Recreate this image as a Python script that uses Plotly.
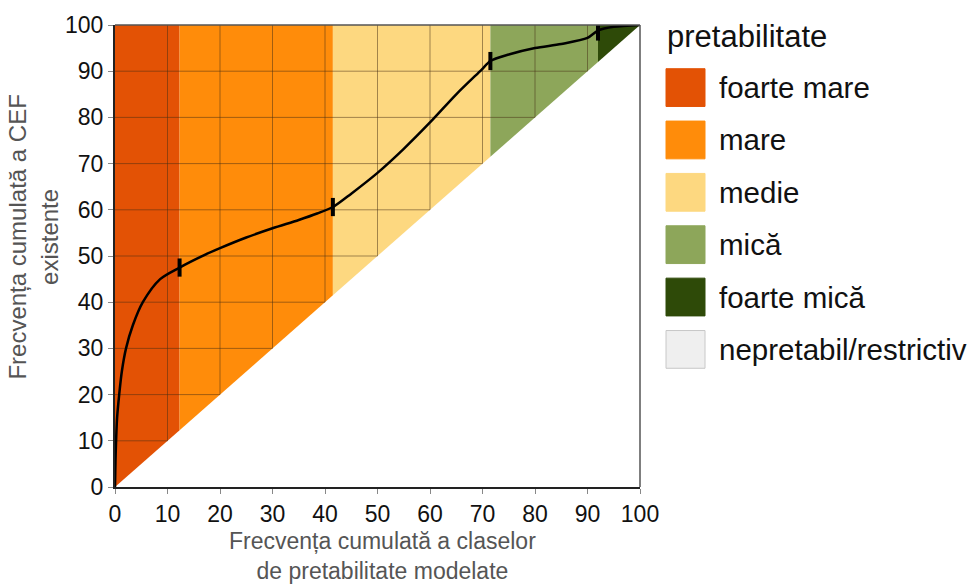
import plotly.graph_objects as go

# ---------------- data ----------------
classes = ["foarte mare", "mare", "medie", "mică", "foarte mică"]
class_colors = ["#E35205", "#FF8C0A", "#FDD880", "#8DA65A", "#2E4A08"]
class_bounds = [0, 12.3, 41.5, 71.5, 92.0, 100]   # cumulative frequency of modelled classes

extra_class = "nepretabil/restrictiv"
extra_color = "#EFEFEF"

curve_x = [0, 0.15, 0.4, 0.8, 1.3, 2.1, 3.4, 5.3, 8.6, 12.3, 17.0, 20.0,
           25.0, 30.0, 35.0, 38.5, 41.5, 45.0, 50.0, 55.0, 60.0, 65.0, 69.8, 71.5,
           75.0, 80.0, 85.0, 90.0, 92.0, 95.0, 100]
curve_y = [0, 8, 15, 20, 25, 30, 35, 40, 45.0, 47.5, 50.2, 51.7,
           54.0, 56.0, 57.8, 59.2, 60.6, 63.5, 68.0, 73.2, 78.9, 85.0, 90.3, 92.2,
           93.6, 95.0, 95.9, 97.2, 98.8, 99.6, 100]

break_x = [12.3, 41.5, 71.5, 92.0]
break_y = [47.5, 60.6, 92.2, 98.6]

tick_vals = [0, 10, 20, 30, 40, 50, 60, 70, 80, 90, 100]

FONT = "Liberation Sans, Arial, sans-serif"

fig = go.Figure()

# coloured class areas above the diagonal
for name, col, x0, x1 in zip(classes, class_colors, class_bounds[:-1], class_bounds[1:]):
    fig.add_trace(go.Scatter(
        x=[x0, x0, x1, x1, x0], y=[x0, 100, 100, x1, x0],
        mode="lines", fill="toself", fillcolor=col,
        line=dict(width=0, color=col), hoverinfo="skip", showlegend=False))

# grid lines only over the coloured area
gx, gy = [], []
for k in tick_vals[1:-1]:
    gx += [k, k, None, 0, k, None]
    gy += [k, 100, None, k, k, None]
fig.add_trace(go.Scatter(x=gx, y=gy, mode="lines",
                         line=dict(color="rgba(70,45,20,0.5)", width=1),
                         hoverinfo="skip", showlegend=False))

# cumulative curve
fig.add_trace(go.Scatter(x=curve_x, y=curve_y, mode="lines", line_shape="spline",
                         line=dict(color="#000000", width=2.5, smoothing=0.8),
                         hoverinfo="skip", showlegend=False))
# class break marks
fig.add_trace(go.Scatter(x=break_x, y=break_y, mode="markers",
                         marker=dict(symbol="line-ns", size=13,
                                     line=dict(color="#000000", width=4)),
                         hoverinfo="skip", showlegend=False))

axis_common = dict(range=[0, 100], tickvals=tick_vals, showgrid=False, zeroline=False,
                   ticks="outside", ticklen=5, tickcolor="#888", tickwidth=1,
                   tickfont=dict(family=FONT, size=23, color="#111"),
                   showline=True, linecolor="#222", linewidth=2)
fig.update_xaxes(**axis_common)
fig.update_yaxes(**axis_common)

shapes = [
    dict(type="line", xref="paper", yref="paper", x0=0, x1=1, y0=1, y1=1,
         line=dict(color="#555", width=1.5)),
    dict(type="line", xref="paper", yref="paper", x0=1, x1=1, y0=0, y1=1,
         line=dict(color="#555", width=1.5)),
]
annotations = []

# manual legend
W_PLOT, H_PLOT, L, B = 525.0, 465.0, 115.0, 487.0
def px_x(p):
    return (p - L) / W_PLOT
def px_y(p):
    return (B - p) / H_PLOT

annotations.append(dict(xref="paper", yref="paper", x=px_x(665), y=px_y(34),
                        xanchor="left", yanchor="middle", showarrow=False,
                        text="pretabilitate",
                        font=dict(family=FONT, size=31, color="#111")))
leg_names = classes + [extra_class]
leg_cols = class_colors + [extra_color]
for i, (name, col) in enumerate(zip(leg_names, leg_cols)):
    top = 66 + i * 52.7
    bot = top + 38
    edge = "#C8C8C8" if i == len(leg_names) - 1 else col
    shapes.append(dict(type="rect", xref="paper", yref="paper",
                       x0=px_x(666), x1=px_x(705), y0=px_y(bot), y1=px_y(top),
                       fillcolor=col, line=dict(color=edge, width=1)))
    annotations.append(dict(xref="paper", yref="paper", x=px_x(717), y=px_y((top + bot) / 2),
                            xanchor="left", yanchor="middle", showarrow=False,
                            text=name, font=dict(family=FONT, size=29.5, color="#111")))

# axis titles
annotations.append(dict(xref="paper", yref="paper", x=px_x(382), y=px_y(556),
                        xanchor="center", yanchor="middle", showarrow=False,
                        text="Frecvența cumulată a claselor<br>de pretabilitate modelate",
                        font=dict(family=FONT, size=23, color="#555")))
annotations.append(dict(xref="paper", yref="paper", x=px_x(33), y=px_y(236),
                        xanchor="center", yanchor="middle", showarrow=False, textangle=-90,
                        text="Frecvența cumulată a CEF<br>existente",
                        font=dict(family=FONT, size=24, color="#555")))

fig.update_layout(width=979, height=587,
                  margin=dict(l=115, r=339, t=22, b=100),
                  paper_bgcolor="white", plot_bgcolor="white",
                  shapes=shapes, annotations=annotations, showlegend=False)

fig.write_html("out.html", config={"displayModeBar": False},
               post_script="document.body.style.margin='0';document.body.style.padding='0';")
